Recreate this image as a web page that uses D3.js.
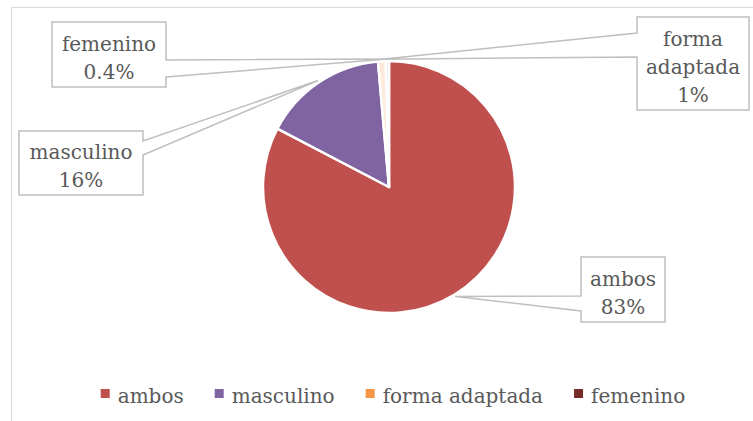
<!DOCTYPE html>
<html>
<head>
<meta charset="utf-8">
<script src="https://cdn.jsdelivr.net/npm/d3@7"></script>
<style>
  body { margin: 0; background: #fff; }
  svg { display: block; }
  text { font-family: "DejaVu Serif", serif; fill: #595959; }
</style>
</head>
<body>
<svg id="chart" width="753" height="421"></svg>
<script>
// data
var categories = ["ambos", "masculino", "forma adaptada", "femenino"];
var values = [83, 16, 1, 0.4];
var valueLabels = ["83%", "16%", "1%", "0.4%"];
var colors = ["#C0504D", "#8064A2", "#F79646", "#772C2A"];
// label text split on lines as in the callouts
var labelLines = [["ambos"], ["masculino"], ["forma", "adaptada"], ["femenino"]];

var W = 753, H = 421,
    cx = 389, cy = 187, R = 126;

// callout boxes: x0,y0,x1,y1, side of wedge, wedge base
var boxes = [
    {x0: 581, y0: 257, x1: 665, y1: 322, side: "left",  b0: 296, b1: 311},
    {x0: 19,  y0: 131, x1: 143, y1: 195, side: "right", b0: 141, b1: 155},
    {x0: 637, y0: 17,  x1: 749, y1: 110, side: "left",  b0: 33,  b1: 57},
    {x0: 52,  y0: 22,  x1: 166, y1: 87,  side: "right", b0: 60,  b1: 77}
];

var svg = d3.select("#chart");

// chart area border
svg.append("path")
    .attr("d", "M11.5," + H + "V7.5H" + W)
    .attr("fill", "none")
    .attr("stroke", "#d9d9d9")
    .attr("stroke-width", 1);

var pie = d3.pie().sort(null).value(function(d) { return d; });
var arcs = pie(values);

var arc = d3.arc().innerRadius(0).outerRadius(R);
var tipArc = d3.arc().innerRadius(R + 2).outerRadius(R + 2);

var g = svg.append("g").attr("transform", "translate(" + cx + "," + cy + ")");

// the two tiny slices almost disappear under the white borders
g.selectAll("path.slice")
    .data(arcs)
    .enter().append("path")
    .attr("class", "slice")
    .attr("d", arc)
    .attr("fill", function(d, i) { return colors[i]; })
    .attr("fill-opacity", function(d) { return d.value < 2 ? 0.2 : 1; })
    .attr("stroke", "#fff")
    .attr("stroke-width", 2.5)
    .attr("stroke-linejoin", "round");

// callout path with wedge pointing to the slice
function calloutPath(b, tip) {
    var p = d3.path();
    if (b.side == "left") {
        p.moveTo(b.x0, b.y0);
        p.lineTo(b.x1, b.y0);
        p.lineTo(b.x1, b.y1);
        p.lineTo(b.x0, b.y1);
        p.lineTo(b.x0, b.b1);
        p.lineTo(tip[0], tip[1]);
        p.lineTo(b.x0, b.b0);
        p.closePath();
    } else {
        p.moveTo(b.x0, b.y0);
        p.lineTo(b.x1, b.y0);
        p.lineTo(b.x1, b.b0);
        p.lineTo(tip[0], tip[1]);
        p.lineTo(b.x1, b.b1);
        p.lineTo(b.x1, b.y1);
        p.lineTo(b.x0, b.y1);
        p.closePath();
    }
    return p.toString();
}

var lineH = 28;
arcs.forEach(function(d, i) {
    var b = boxes[i];
    var t = tipArc.centroid(d);
    var tip = [t[0] + cx, t[1] + cy];
    svg.append("path")
        .attr("d", calloutPath(b, tip))
        .attr("fill", "#fff")
        .attr("stroke", "#bfbfbf")
        .attr("stroke-width", 1.5)
        .attr("stroke-linejoin", "miter");

    var lines = labelLines[i].concat([valueLabels[i]]);
    var mx = (b.x0 + b.x1) / 2, my = (b.y0 + b.y1) / 2;
    var first = my - (lines.length - 1) * lineH / 2 + 10;
    var txt = svg.append("text")
        .attr("text-anchor", "middle")
        .style("font-size", "20px");
    lines.forEach(function(l, j) {
        txt.append("tspan")
            .attr("x", mx)
            .attr("y", first + j * lineH)
            .text(l);
    });
});

// legend
var legend = svg.append("g");
var lx = 0;
categories.forEach(function(c, i) {
    var it = legend.append("g").attr("transform", "translate(" + lx + ",0)");
    it.append("rect")
        .attr("x", 0).attr("y", 389)
        .attr("width", 9).attr("height", 9)
        .attr("fill", colors[i]);
    var t = it.append("text")
        .attr("x", 17).attr("y", 403)
        .style("font-size", "20px")
        .text(c);
    lx += 17 + t.node().getComputedTextLength() + 31;
});
var legendW = lx - 31;
legend.attr("transform", "translate(" + (393 - legendW / 2) + ",0)");
</script>
</body>
</html>
